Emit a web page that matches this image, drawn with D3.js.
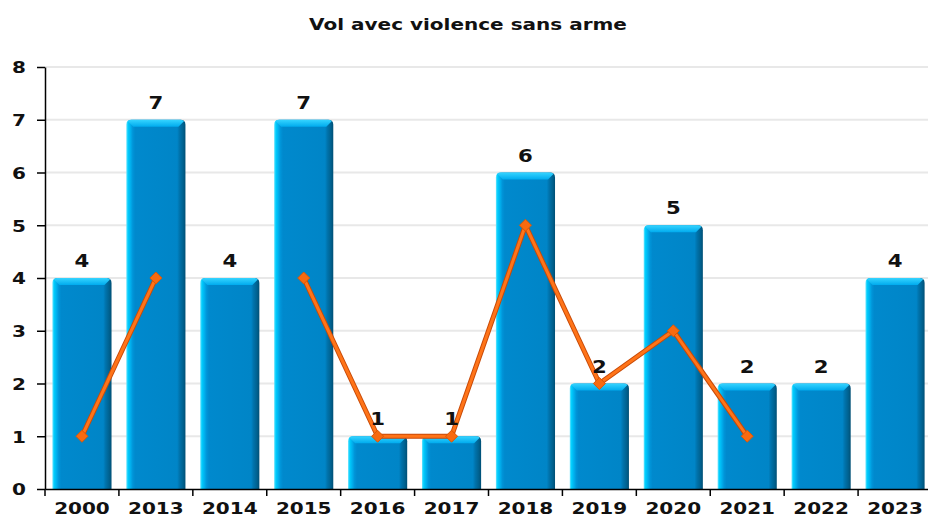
<!DOCTYPE html>
<html>
<head>
<meta charset="utf-8">
<script src="https://cdn.jsdelivr.net/npm/d3@7"></script>
<style>
  html, body { margin: 0; padding: 0; background: #fff; }
  svg text { font-family: "DejaVu Sans", sans-serif; font-weight: bold; fill: #111; }
</style>
</head>
<body>
<svg id="chart" width="928" height="521"></svg>
<script>
// data
var years = ["2000", "2013", "2014", "2015", "2016", "2017", "2018", "2019", "2020", "2021", "2022", "2023"];
var barValues = [4, 7, 4, 7, 1, 1, 6, 2, 5, 2, 2, 4];
var lineValues = [1, 4, null, 4, 1, 1, 5, 2, 3, 1, null, null];
var yTicks = [0, 1, 2, 3, 4, 5, 6, 7, 8];
var title = "Vol avec violence sans arme";

var svg = d3.select("#chart"),
    margin = { top: 67, right: -4, bottom: 32, left: 45 },
    W = +svg.attr("width"), H = +svg.attr("height"),
    SX = 1.25; // text in the picture is stretched sideways

var x = d3.scaleBand()
    .domain(years)
    .range([margin.left, W - margin.right])
    .paddingInner(0.2)
    .paddingOuter(0.1);

var y = d3.scaleLinear()
    .domain([0, 8])
    .range([H - margin.bottom, margin.top]);

var defs = svg.append("defs");
var gBody = defs.append("linearGradient").attr("id", "barBody")
    .attr("x1", "0").attr("x2", "1").attr("y1", "0").attr("y2", "0");
[["0%", "#6ae4ff"], ["3%", "#00cdfd"], ["7%", "#00b0ee"], ["11%", "#0094d8"],
 ["15%", "#0089cd"], ["86%", "#0085c7"], ["90%", "#0073ac"], ["96%", "#00618f"], ["100%", "#004f75"]]
  .forEach(function (s) { gBody.append("stop").attr("offset", s[0]).attr("stop-color", s[1]); });

var gTop = defs.append("linearGradient").attr("id", "barTop")
    .attr("x1", "0").attr("x2", "0").attr("y1", "0").attr("y2", "1");
[["0%", "#36d4ff"], ["100%", "#00abee"]]
  .forEach(function (s) { gTop.append("stop").attr("offset", s[0]).attr("stop-color", s[1]); });

// grid
svg.append("g").selectAll("line")
    .data(yTicks.slice(1))
    .enter().append("line")
    .attr("x1", margin.left).attr("x2", W)
    .attr("y1", function (d) { return y(d); })
    .attr("y2", function (d) { return y(d); })
    .attr("stroke", "#e8e8e8").attr("stroke-width", 2);

// title
svg.append("text")
    .attr("transform", "translate(468,30) scale(" + SX + ",1)")
    .attr("text-anchor", "middle")
    .attr("font-size", "16px")
    .text(title);

// bars
var bw = x.bandwidth(), r = 5, bev = 7;
var bars = svg.append("g").selectAll("g")
    .data(years.map(function (d, i) { return { year: d, value: barValues[i] }; }))
    .enter().append("g");

bars.append("path")
    .attr("d", function (d) {
      var x0 = x(d.year), x1 = x0 + bw, y0 = y(d.value), y1 = y(0);
      return "M" + x0 + "," + y1 + "V" + (y0 + r) + "Q" + x0 + "," + y0 + " " + (x0 + r) + "," + y0 +
             "H" + (x1 - r) + "Q" + x1 + "," + y0 + " " + x1 + "," + (y0 + r) + "V" + y1 + "Z";
    })
    .attr("fill", "url(#barBody)");

bars.append("path")
    .attr("d", function (d) {
      var x0 = x(d.year), x1 = x0 + bw, y0 = y(d.value);
      return "M" + (x0 + 1.5) + "," + (y0 + 1.5) + "Q" + (x0 + 2) + "," + y0 + " " + (x0 + r) + "," + y0 +
             "H" + (x1 - r) + "Q" + (x1 - 2) + "," + y0 + " " + (x1 - 1.5) + "," + (y0 + 1.5) +
             "L" + (x1 - bev) + "," + (y0 + bev) + "H" + (x0 + bev) + "Z";
    })
    .attr("fill", "url(#barTop)");

// axes
var yAxis = svg.append("g")
    .attr("transform", "translate(" + margin.left + ",0)")
    .call(d3.axisLeft(y).tickValues(yTicks).tickSize(8).tickSizeOuter(0).tickFormat(d3.format("d")));
yAxis.select(".domain").attr("stroke", "#000").attr("stroke-width", 1.5);
yAxis.selectAll(".tick line").attr("stroke", "#000").attr("stroke-width", 1.5);
yAxis.selectAll(".tick text")
    .attr("x", null).attr("dy", "0.36em")
    .attr("transform", "translate(-19,0) scale(" + SX + ",1)")
    .attr("font-size", "16px").attr("font-family", null).attr("fill", "#111");

var xAxis = svg.append("g")
    .attr("transform", "translate(0," + y(0) + ")")
    .call(d3.axisBottom(x).tickSize(0).tickSizeOuter(0));
xAxis.select(".domain").attr("stroke", "#000").attr("stroke-width", 1.5);
xAxis.selectAll(".tick text")
    .attr("y", null).attr("dy", null)
    .attr("transform", "translate(0,25) scale(" + SX + ",1)")
    .attr("font-size", "16px").attr("font-family", null).attr("fill", "#111");

var gap = (x.step() - bw) / 2;
xAxis.append("g").selectAll("line")
    .data(years.map(function (d) { return x(d) - gap; }).concat([x.range()[1]]))
    .enter().append("line")
    .attr("x1", function (d) { return d; }).attr("x2", function (d) { return d; })
    .attr("y1", 0).attr("y2", 7)
    .attr("stroke", "#000").attr("stroke-width", 1.5);

// line series
var pts = years.map(function (d, i) { return { year: d, value: lineValues[i] }; });
var line = d3.line()
    .defined(function (d) { return d.value !== null; })
    .x(function (d) { return x(d.year) + bw / 2; })
    .y(function (d) { return y(d.value); });

svg.append("path").datum(pts).attr("d", line)
    .attr("fill", "none").attr("stroke", "#c84a08").attr("stroke-width", 5).attr("stroke-linejoin", "round");
svg.append("path").datum(pts).attr("d", line)
    .attr("fill", "none").attr("stroke", "#ff7418").attr("stroke-width", 3).attr("stroke-linejoin", "round");

svg.append("g").selectAll("path")
    .data(pts.filter(function (d) { return d.value !== null; }))
    .enter().append("path")
    .attr("transform", function (d) { return "translate(" + (x(d.year) + bw / 2) + "," + y(d.value) + ")"; })
    .attr("d", "M0,-6L6,0L0,6L-6,0Z")
    .attr("fill", "#f86a10").attr("stroke", "#d85808").attr("stroke-width", 1);

// value labels
svg.append("g").selectAll("text")
    .data(years.map(function (d, i) { return { year: d, value: barValues[i] }; }))
    .enter().append("text")
    .attr("transform", function (d) {
      return "translate(" + (x(d.year) + bw / 2) + "," + (y(d.value) - 11) + ") scale(" + SX + ",1)";
    })
    .attr("text-anchor", "middle")
    .attr("font-size", "17px")
    .text(function (d) { return d.value; });
</script>
</body>
</html>
